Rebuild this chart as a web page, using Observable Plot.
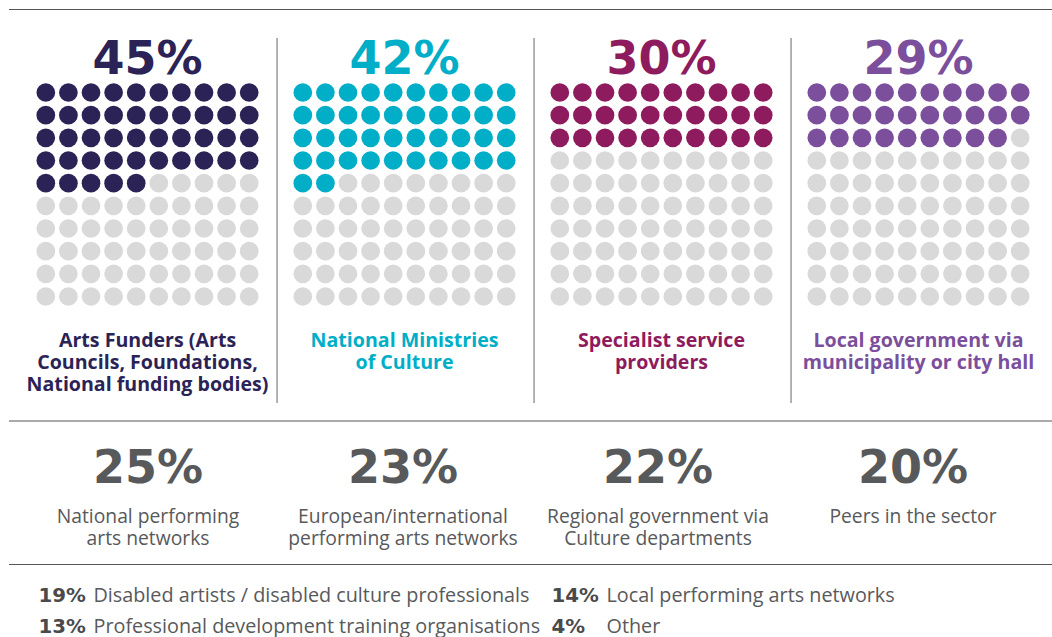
<!DOCTYPE html>
<html>
<head>
<meta charset="utf-8">
<script src="https://cdn.jsdelivr.net/npm/d3@7"></script>
<script src="https://cdn.jsdelivr.net/npm/@observablehq/plot@0.6"></script>
<style>
html, body { margin: 0; padding: 0; background: #fff; }
#page { position: relative; width: 1052px; height: 637px; overflow: hidden; font-family: "Open Sans", sans-serif; }
.rule { position: absolute; left: 9px; right: 0; height: 0; }
.block { position: absolute; left: 0; }
.block svg { display: block; }
</style>
</head>
<body>
<div id="page">
  <div class="rule" style="top:9px;border-top:1.5px solid #555;"></div>
  <div id="top" class="block" style="top:0;"></div>
  <div class="rule" style="top:420px;border-top:2px solid #aaa;"></div>
  <div id="mid" class="block" style="top:421px;"></div>
  <div class="rule" style="top:564px;border-top:1.5px solid #555;"></div>
  <div id="bot" class="block" style="top:565px;"></div>
</div>
<script>
// ---------- DATA ----------
const topCategories = [
  "Arts Funders (Arts Councils, Foundations, National funding bodies)",
  "National Ministries of Culture",
  "Specialist service providers",
  "Local government via municipality or city hall"
];
const topLabels = [
  "Arts Funders (Arts\nCouncils, Foundations,\nNational funding bodies)",
  "National Ministries\nof Culture",
  "Specialist service\nproviders",
  "Local government via\nmunicipality or city hall"
];
const topPercents = [45, 42, 30, 29];
const topColors = ["#2b2356", "#00aec7", "#8e1b5e", "#7b4f9c"];

const midLabels = [
  "National performing\narts networks",
  "European/international\nperforming arts networks",
  "Regional government via\nCulture departments",
  "Peers in the sector"
];
const midPercents = [25, 23, 22, 20];

const listLabels = [
  "Disabled artists / disabled culture professionals",
  "Local performing arts networks",
  "Professional development training organisations",
  "Other"
];
const listPercents = [19, 14, 13, 4];

// ---------- BUILD ----------
const emptyColor = "#d9d9d9";
const gridSize = 10;
const bigFont = "'DejaVu Sans', sans-serif";
const bodyFont = "'Open Sans', sans-serif";

const panels = topCategories.map((cat, i) => ({
  cat, label: topLabels[i], pct: topPercents[i], color: topColors[i]
}));
const cells = panels.flatMap(p =>
  d3.range(gridSize * gridSize).map(k => ({
    cat: p.cat,
    col: k % gridSize,
    row: Math.floor(k / gridSize),
    fill: k < p.pct ? p.color : emptyColor
  }))
);

const colStep = 22.7;          // px per waffle column
const sepOffset = 14.5;        // px left of a panel
const sepX = -0.5 - sepOffset / colStep;

const topPlot = Plot.plot({
  width: 1052,
  height: 415,
  marginLeft: 32.55,
  marginRight: 18.75,
  marginTop: 80.67,
  marginBottom: 415 - 307.33,
  fx: { domain: topCategories, paddingInner: 0.1198, paddingOuter: 0, axis: null },
  x: { domain: [-0.5, 9.5], axis: null },
  y: { domain: [9.5, -0.5], axis: null },
  color: { type: "identity" },
  style: { fontFamily: bodyFont, background: "transparent", overflow: "visible" },
  marks: [
    Plot.ruleX(panels.slice(1), { fx: "cat", x: sepX, y1: -2.38, y2: 13.72, stroke: "#999", strokeWidth: 1.5 }),
    Plot.dot(cells, { fx: "cat", x: "col", y: "row", r: 9.35, fill: "fill" }),
    Plot.text(panels, {
      fx: "cat", frameAnchor: "top", text: d => d.pct + "%",
      lineAnchor: "bottom", dy: -7.5, fontSize: 46, fontWeight: 700, fontFamily: bigFont, fill: "color"
    }),
    Plot.text(panels, {
      fx: "cat", frameAnchor: "bottom", text: "label",
      lineAnchor: "top", lineHeight: 22 / 19.6, dy: 24, fontSize: 19.6, fontWeight: 700, fill: "color"
    })
  ]
});
document.getElementById("top").append(topPlot);

const mid = midLabels.map((label, i) => ({ label, pct: midPercents[i] }));
const midPlot = Plot.plot({
  width: 1052,
  height: 144,
  marginLeft: 19.25,
  marginRight: 10.75,
  marginTop: 0,
  marginBottom: 0,
  x: { type: "band", domain: midLabels, padding: 0, axis: null },
  style: { fontFamily: bodyFont, background: "transparent", overflow: "visible" },
  marks: [
    Plot.text(mid, {
      x: "label", frameAnchor: "top", text: d => d.pct + "%",
      lineAnchor: "bottom", dy: 61, fontSize: 46, fontWeight: 700, fontFamily: bigFont, fill: "#58595b"
    }),
    Plot.text(mid, {
      x: "label", frameAnchor: "top", text: "label",
      lineAnchor: "top", lineHeight: 22 / 19.3, dy: 85.4, fontSize: 19.3, fill: "#58595b"
    })
  ]
});
document.getElementById("mid").append(midPlot);

const listItems = listPercents.map((pct, i) => ({ pct, label: listLabels[i], col: i % 2, row: Math.floor(i / 2) }));
const botPlot = Plot.plot({
  width: 1052,
  height: 72,
  marginLeft: 38,
  marginRight: 501,
  marginTop: 36,
  marginBottom: 5,
  x: { domain: [0, 1], axis: null },
  y: { domain: [1, 0], axis: null },
  style: { fontFamily: bodyFont, background: "transparent", overflow: "visible" },
  marks: [
    Plot.text(listItems, {
      x: "col", y: "row", text: d => d.pct + "%", textAnchor: "start",
      lineAnchor: "bottom", fontSize: 19.8, fontWeight: 700, fontFamily: bigFont, fill: "#4a4a4c"
    }),
    Plot.text(listItems, {
      x: "col", y: "row", text: "label", textAnchor: "start",
      lineAnchor: "bottom", dx: 55, fontSize: 19.8, fill: "#58595b"
    })
  ]
});
document.getElementById("bot").append(botPlot);
</script>
</body>
</html>
